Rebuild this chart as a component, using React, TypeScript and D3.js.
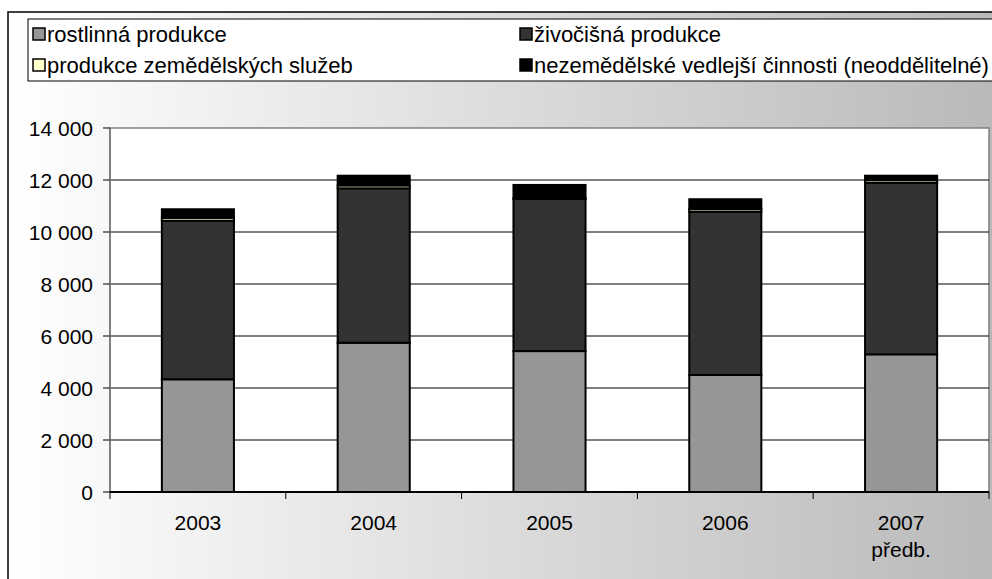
import React from "react";
import * as d3 from "d3";

const years = ["2003", "2004", "2005", "2006", "2007"];
const yearSub = ["", "", "", "", "předb."];
const rostlinna = [4335, 5740, 5420, 4500, 5295];
const zivocisna = [6100, 5940, 5850, 6280, 6600];
const sluzby = [110, 110, 40, 100, 100];
const nezemedelske = [330, 375, 500, 380, 170];
const yTicks = [0, 2000, 4000, 6000, 8000, 10000, 12000, 14000];

const seriesNames = [
  "rostlinná produkce",
  "živočišná produkce",
  "produkce zemědělských služeb",
  "nezemědělské vedlejší činnosti (neoddělitelné)",
];
const seriesColors = ["#969696", "#333333", "#FFFFCC", "#000000"];
const keys = ["rostlinna", "zivocisna", "sluzby", "nezemedelske"];

const FONT = "Arial, 'Liberation Sans', sans-serif";

export default function App() {
  const left = 110, right = 989, top = 128, bottom = 492;
  const x = d3.scaleBand<string>().domain(years).range([left, right]).paddingInner(0.59).paddingOuter(0.295);
  const y = d3.scaleLinear().domain([0, 14000]).range([bottom, top]);
  const table = years.map((yr, i) => ({
    year: yr,
    rostlinna: rostlinna[i],
    zivocisna: zivocisna[i],
    sluzby: sluzby[i],
    nezemedelske: nezemedelske[i],
  }));
  const stacked = d3.stack<any>().keys(keys)(table);
  const fmt = (v: number) => d3.format(",")(v).replace(/,/g, " ");
  const step = x.step();
  const boundaries = d3.range(years.length + 1).map((i) => left + i * step);

  const legendPos = [
    { x: 33, y: 34 },
    { x: 520, y: 34 },
    { x: 33, y: 65 },
    { x: 520, y: 65 },
  ];

  return (
    <svg width={992} height={579} style={{ position: "absolute", left: 0, top: 0, display: "block" }}>
      <defs>
        <linearGradient id="bg" x1="0" y1="0" x2="1" y2="0">
          <stop offset="0" stopColor="#ffffff" />
          <stop offset="1" stopColor="#b9b9b9" />
        </linearGradient>
      </defs>
      <rect x={0} y={0} width={992} height={579} fill="#ffffff" />
      <rect x={8} y={12} width={992} height={600} fill="url(#bg)" stroke="#000" strokeWidth={1.5} />
      {/* legend */}
      <rect x={28} y={19} width={980} height={62} fill="#ffffff" stroke="#000" strokeWidth={1} />
      {seriesNames.map((n, i) => (
        <g key={n}>
          <rect x={legendPos[i].x} y={legendPos[i].y - 6} width={12} height={12} fill={seriesColors[i]} stroke="#000" strokeWidth={1.5} />
          <text x={legendPos[i].x + 14} y={legendPos[i].y + 8} fontFamily={FONT} fontSize={22} fill="#000">
            {n}
          </text>
        </g>
      ))}
      {/* plot area */}
      <rect x={left} y={top} width={right - left} height={bottom - top} fill="#ffffff" stroke="#808080" strokeWidth={1.5} />
      {yTicks.slice(1, -1).map((t) => (
        <line key={t} x1={left} x2={right} y1={y(t)} y2={y(t)} stroke="#000" strokeWidth={1} />
      ))}
      {/* y axis */}
      <line x1={left} x2={left} y1={top} y2={bottom} stroke="#808080" strokeWidth={2} />
      {yTicks.map((t) => (
        <g key={t}>
          <line x1={left - 7} x2={left} y1={y(t)} y2={y(t)} stroke="#000" strokeWidth={1} />
          <text x={93} y={y(t) + 7.5} textAnchor="end" fontFamily={FONT} fontSize={21} fill="#000">
            {fmt(t)}
          </text>
        </g>
      ))}
      {/* bars */}
      {stacked.map((s, si) =>
        s.map((d: any, i: number) => (
          <rect
            key={si + "-" + i}
            x={x(years[i])!}
            y={y(d[1])}
            width={x.bandwidth()}
            height={y(d[0]) - y(d[1])}
            fill={seriesColors[si]}
            stroke="#000"
            strokeWidth={2}
          />
        ))
      )}
      {/* x axis */}
      <line x1={left} x2={right} y1={bottom} y2={bottom} stroke="#000" strokeWidth={2} />
      {boundaries.map((b, i) => (
        <line key={i} x1={b} x2={b} y1={bottom} y2={bottom + 7} stroke="#000" strokeWidth={1} />
      ))}
      {years.map((yr, i) => (
        <g key={yr}>
          <text x={x(yr)! + x.bandwidth() / 2} y={530} textAnchor="middle" fontFamily={FONT} fontSize={21} fill="#000">
            {yr}
          </text>
          {yearSub[i] && (
            <text x={x(yr)! + x.bandwidth() / 2} y={557} textAnchor="middle" fontFamily={FONT} fontSize={21} fill="#000">
              {yearSub[i]}
            </text>
          )}
        </g>
      ))}
    </svg>
  );
}
